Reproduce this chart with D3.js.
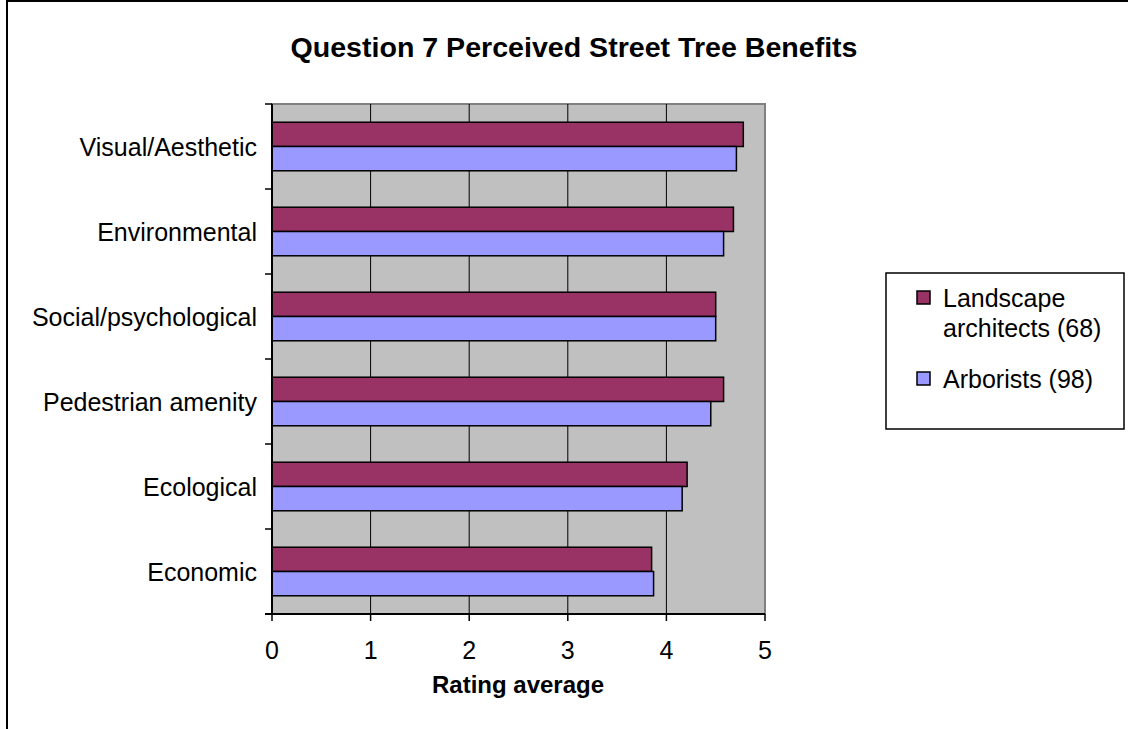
<!DOCTYPE html>
<html><head><meta charset="utf-8">
<script src="https://cdn.jsdelivr.net/npm/d3@7"></script>
<style>body{margin:0;background:#fff}svg{display:block;font-family:"Liberation Sans",Arial,sans-serif}</style>
</head><body><svg id="c" width="1128" height="729"></svg>
<script>
const categories = ["Visual/Aesthetic","Environmental","Social/psychological","Pedestrian amenity","Ecological","Economic"];
const landscapeArchitects = [4.78, 4.68, 4.50, 4.58, 4.21, 3.85];
const arborists = [4.71, 4.58, 4.50, 4.45, 4.16, 3.87];
const seriesNames = ["Landscape architects (68)", "Arborists (98)"];
const xTicks = [0,1,2,3,4,5];

const svg = d3.select("#c");
const m = {left:272, right:765, top:104, bottom:614};
const x = d3.scaleLinear().domain([0,5]).range([m.left, m.right]);
const y = d3.scaleBand().domain(categories).range([m.top, m.bottom]).paddingInner(0).paddingOuter(0);
const gapRatio = 1.5;
const barH = y.bandwidth()/(2+gapRatio);
const colors = ["#993366","#9999FF"];

// outer border
svg.append("rect").attr("x",7).attr("y",1).attr("width",1130).attr("height",740)
  .attr("fill","none").attr("stroke","#000").attr("stroke-width",2);

// title
svg.append("text").attr("x",574).attr("y",57).attr("text-anchor","middle")
  .attr("font-weight","bold").attr("font-size",27).attr("textLength",567).attr("lengthAdjust","spacingAndGlyphs")
  .text("Question 7 Perceived Street Tree Benefits");

// plot bg
svg.append("rect").attr("x",m.left).attr("y",m.top).attr("width",m.right-m.left).attr("height",m.bottom-m.top)
  .attr("fill","#C0C0C0").attr("stroke","#808080").attr("stroke-width",2);

// gridlines
svg.append("g").selectAll("line").data(xTicks.slice(1,-1)).join("line")
  .attr("x1",d=>x(d)).attr("x2",d=>x(d)).attr("y1",m.top).attr("y2",m.bottom)
  .attr("stroke","#000").attr("stroke-width",1);

// bars
const series = [landscapeArchitects, arborists];
series.forEach((vals,si)=>{
  svg.append("g").selectAll("rect").data(categories).join("rect")
    .attr("x",x(0))
    .attr("y",(c)=>y(c)+barH*gapRatio/2+si*barH)
    .attr("width",(c,i)=>x(vals[i])-x(0))
    .attr("height",barH)
    .attr("fill",colors[si]).attr("stroke","#000").attr("stroke-width",1.5);
});

// y axis
const yAxis = svg.append("g");
yAxis.append("line").attr("x1",m.left).attr("x2",m.left).attr("y1",m.top).attr("y2",m.bottom).attr("stroke","#000").attr("stroke-width",2);
const bounds = categories.map(c=>y(c)).concat([m.bottom]);
yAxis.selectAll("line.t").data(bounds).join("line").attr("class","t")
  .attr("x1",m.left-7).attr("x2",m.left).attr("y1",d=>d).attr("y2",d=>d).attr("stroke","#000").attr("stroke-width",1.5);
yAxis.selectAll("text").data(categories).join("text")
  .attr("x",m.left-15).attr("y",c=>y(c)+y.bandwidth()/2+9).attr("text-anchor","end")
  .attr("font-size",25).text(d=>d);

// x axis
const xAxis = svg.append("g");
xAxis.append("line").attr("x1",m.left-7).attr("x2",m.right).attr("y1",m.bottom).attr("y2",m.bottom).attr("stroke","#000").attr("stroke-width",2);
xAxis.selectAll("line.t").data(xTicks).join("line").attr("class","t")
  .attr("x1",d=>x(d)).attr("x2",d=>x(d)).attr("y1",m.bottom).attr("y2",m.bottom+7).attr("stroke","#000").attr("stroke-width",1.5);
xAxis.selectAll("text").data(xTicks).join("text")
  .attr("x",d=>x(d)).attr("y",m.bottom+45).attr("text-anchor","middle").attr("font-size",25).text(d=>d);
svg.append("text").attr("x",518).attr("y",m.bottom+79).attr("text-anchor","middle").attr("font-weight","bold").attr("font-size",24).text("Rating average");

// legend
const lg = svg.append("g");
lg.append("rect").attr("x",886).attr("y",273).attr("width",238).attr("height",156).attr("fill","#fff").attr("stroke","#000").attr("stroke-width",1.5);
const legendItems = [{lines:["Landscape","architects (68)"], y:291},{lines:["Arborists (98)"], y:372}];
legendItems.forEach((it,i)=>{
  lg.append("rect").attr("x",917).attr("y",it.y).attr("width",13).attr("height",13).attr("fill",colors[i]).attr("stroke","#000").attr("stroke-width",1.5);
  it.lines.forEach((t,j)=>{
    lg.append("text").attr("x",943).attr("y",it.y+16+j*30).attr("font-size",25).text(t);
  });
});
</script></body></html>
